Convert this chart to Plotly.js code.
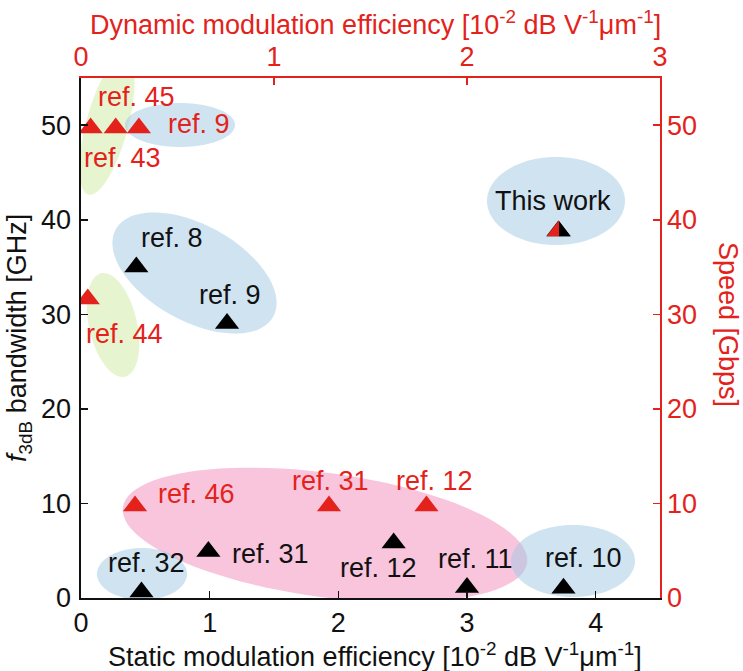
<!DOCTYPE html>
<html><head><meta charset="utf-8">
<script src="https://cdn.plot.ly/plotly-3.0.1.min.js"></script>
<style>html,body{margin:0;padding:0;background:#fff}#chart{width:743px;height:671px}</style>
</head><body><div id="chart"></div>
<script>
// ---- data ----
const staticRefs = ['ref. 8', 'ref. 9', 'ref. 31', 'ref. 32', 'ref. 12', 'ref. 11', 'ref. 10', 'This work'];
const staticEfficiency = [0.43, 1.135, 0.99, 0.47, 2.43, 3.00, 3.75, 3.71];   // 10^-2 dB V^-1 um^-1
const bandwidthGHz = [35.3, 29.3, 5.2, 0.9, 6.1, 1.4, 1.3, 39.1];

const dynamicRefs = ['ref. 43', 'ref. 45', 'ref. 9', 'ref. 44', 'ref. 46', 'ref. 31', 'ref. 12', 'This work'];
const dynamicEfficiency = [0.05, 0.18, 0.30, 0.035, 0.28, 1.285, 1.79, 2.475];
const speedGbps = [50, 50, 50, 31.9, 10, 10, 10, 39.1];

const bottomTicks = [0, 1, 2, 3, 4];
const topTicks = [0, 1, 2, 3];
const leftTicks = [0, 10, 20, 30, 40, 50];
const rightTicks = [0, 10, 20, 30, 40, 50];

// ---- styling / placement ----
const RED = '#e3231b';
const INK = '#111111';
const FONT = 'Liberation Sans, Arial, Helvetica, sans-serif';
const W = 743, H = 671, ML = 81, MR = 83, MT = 78, MB = 73;
const PW = W - ML - MR, PH = H - MT - MB;
const X_RANGE = [0, 4.5], X2_RANGE = [0, 3], Y_RANGE = [0, 55];
const LABEL_SIZE = 27, TICK_SIZE = 27, TITLE_SIZE = 27;

// label offsets (px) relative to each point
const staticLabelShift = [[36, 26], [3, 26], [62, -5], [5, 26], [-15, -28], [8, 26], [20, 28], [-5, 27]];
const dynamicLabelShift = [[32, -33], [21, 28], [60, 1], [37, -38], [61, 9], [1, 22], [8, 22], null];

// highlight ellipses in pixel space: cx, cy, semi-major, semi-minor, angle (deg, screen), fill
const BLUE = 'rgba(160,200,228,0.5)', PINK = 'rgba(242,140,185,0.5)', GREEN = 'rgba(205,236,160,0.5)';
const ellipses = [
  [325, 535, 204, 62, 7.8, PINK],
  [107, 125, 72, 21, 105, GREEN],
  [113, 325, 53, 24, 77, GREEN],
  [180, 125, 55, 22, 0, BLUE],
  [194.5, 273, 90, 48, 29, BLUE],
  [556, 201, 69, 44, 0, BLUE],
  [573, 561, 62, 36, 0, BLUE],
  [142, 574, 45, 26, 0, BLUE]
];

function pxToX(px) { return X_RANGE[0] + (px - ML) / PW * (X_RANGE[1] - X_RANGE[0]); }
function pxToY(py) { return Y_RANGE[0] + (MT + PH - py) / PH * (Y_RANGE[1] - Y_RANGE[0]); }
function pxToPaperX(px) { return (px - ML) / PW; }
function pxToPaperY(py) { return (MT + PH - py) / PH; }

function ellipseShape(e) {
  const [cx, cy, a, b, ang, fill] = e;
  const t = ang * Math.PI / 180;
  const pts = [];
  for (let i = 0; i < 96; i++) {
    const p = i / 96 * 2 * Math.PI;
    const x = cx + a * Math.cos(p) * Math.cos(t) - b * Math.sin(p) * Math.sin(t);
    const y = cy + a * Math.cos(p) * Math.sin(t) + b * Math.sin(p) * Math.cos(t);
    pts.push(pxToX(x).toFixed(5) + ',' + pxToY(y).toFixed(4));
  }
  return {
    type: 'path', xref: 'x', yref: 'y', layer: 'below',
    path: 'M' + pts.join('L') + 'Z',
    fillcolor: fill, line: {width: 0}
  };
}

const MSIZE = 21;
const traces = [
  {
    x: staticEfficiency, y: bandwidthGHz, text: staticRefs,
    xaxis: 'x', yaxis: 'y', type: 'scatter', mode: 'markers',
    marker: {symbol: 'triangle-up', size: MSIZE, color: '#000', standoff: MSIZE / 8, line: {width: 0}},
    hoverinfo: 'text+x+y', showlegend: false
  },
  {
    x: dynamicEfficiency, y: speedGbps, text: dynamicRefs,
    xaxis: 'x2', yaxis: 'y2', type: 'scatter', mode: 'markers',
    marker: {
      symbol: 'triangle-up', size: MSIZE, color: RED, standoff: MSIZE / 8, line: {width: 0},
      gradient: {type: dynamicRefs.map(r => r === 'This work' ? 'horizontal' : 'none'), color: '#000'}
    },
    hoverinfo: 'text+x+y', showlegend: false
  }
];

const annotations = [];
staticRefs.forEach((r, i) => {
  const s = staticLabelShift[i];
  annotations.push({
    x: staticEfficiency[i], y: bandwidthGHz[i], xref: 'x', yref: 'y',
    xanchor: 'center', yanchor: 'middle',
    text: r, showarrow: false, xshift: s[0], yshift: s[1],
    font: {family: FONT, size: LABEL_SIZE, color: INK}
  });
});
dynamicRefs.forEach((r, i) => {
  const s = dynamicLabelShift[i];
  if (!s) return;
  annotations.push({
    x: dynamicEfficiency[i], y: speedGbps[i], xref: 'x2', yref: 'y2',
    xanchor: 'center', yanchor: 'middle',
    text: r, showarrow: false, xshift: s[0], yshift: s[1],
    font: {family: FONT, size: LABEL_SIZE, color: RED}
  });
});
// axis titles
function title(px, py, text, color, angle) {
  return {xref: 'paper', yref: 'paper', x: pxToPaperX(px), y: pxToPaperY(py),
    xanchor: 'center', yanchor: 'middle', showarrow: false, textangle: angle || 0,
    text: text, font: {family: FONT, size: TITLE_SIZE, color: color}};
}
annotations.push(
  title(375, 23, 'Dynamic modulation efficiency [10<sup>-2</sup> dB V<sup>-1</sup>μm<sup>-1</sup>]', RED),
  title(375, 655, 'Static modulation efficiency [10<sup>-2</sup> dB V<sup>-1</sup>μm<sup>-1</sup>]', INK),
  title(19, 338, '<i>f</i><sub>3dB</sub> bandwidth [GHz]', INK, -90),
  title(728, 325, 'Speed [Gbps]', RED, 90)
);

function axis(extra) {
  return Object.assign({
    showgrid: false, zeroline: false, showline: true, linewidth: 1.6,
    ticks: 'inside', ticklen: 7, tickwidth: 1.6, tickmode: 'array',
    fixedrange: true
  }, extra);
}

const layout = {
  width: W, height: H,
  margin: {l: ML, r: MR, t: MT, b: MB, pad: 0},
  paper_bgcolor: '#fff', plot_bgcolor: 'rgba(0,0,0,0)',
  font: {family: FONT, size: TICK_SIZE, color: INK},
  showlegend: false,
  xaxis: axis({range: X_RANGE, tickvals: bottomTicks, ticktext: bottomTicks.map(String),
    linecolor: INK, tickcolor: INK, tickfont: {family: FONT, size: TICK_SIZE, color: INK},
    anchor: 'y', side: 'bottom', ticklabelstandoff: 0}),
  xaxis2: axis({range: X2_RANGE, tickvals: topTicks, ticktext: topTicks.map(String),
    linecolor: RED, tickcolor: RED, tickfont: {family: FONT, size: TICK_SIZE, color: RED},
    overlaying: 'x', side: 'top', anchor: 'y2'}),
  yaxis: axis({range: Y_RANGE, tickvals: leftTicks, ticktext: leftTicks.map(String),
    linecolor: INK, tickcolor: INK, tickfont: {family: FONT, size: TICK_SIZE, color: INK},
    anchor: 'x', side: 'left', ticklabelstandoff: 3}),
  yaxis2: axis({range: Y_RANGE, tickvals: rightTicks, ticktext: rightTicks.map(String),
    linecolor: RED, tickcolor: RED, tickfont: {family: FONT, size: TICK_SIZE, color: RED},
    overlaying: 'y', side: 'right', anchor: 'x2'}),
  shapes: ellipses.map(ellipseShape),
  annotations: annotations
};

const gd = document.getElementById('chart');
Plotly.newPlot(gd, traces, layout, {displayModeBar: false, staticPlot: true}).then(function () {
  // make the split marker ("This work") a hard black/red split instead of a blend
  gd.querySelectorAll('linearGradient').forEach(function (g) {
    const stops = g.querySelectorAll('stop');
    if (stops.length < 2) return;
    const first = stops[0], last = stops[stops.length - 1];
    const c0 = first.getAttribute('stop-color'), a0 = first.getAttribute('stop-opacity');
    const c1 = last.getAttribute('stop-color'), a1 = last.getAttribute('stop-opacity');
    while (g.firstChild) g.removeChild(g.firstChild);
    [[0, c0, a0], [50, c0, a0], [50, c1, a1], [100, c1, a1]].forEach(function (s) {
      const st = document.createElementNS('http://www.w3.org/2000/svg', 'stop');
      st.setAttribute('offset', s[0] + '%');
      st.setAttribute('stop-color', s[1]);
      st.setAttribute('stop-opacity', s[2] == null ? 1 : s[2]);
      g.appendChild(st);
    });
  });
});
</script>
</body></html>
